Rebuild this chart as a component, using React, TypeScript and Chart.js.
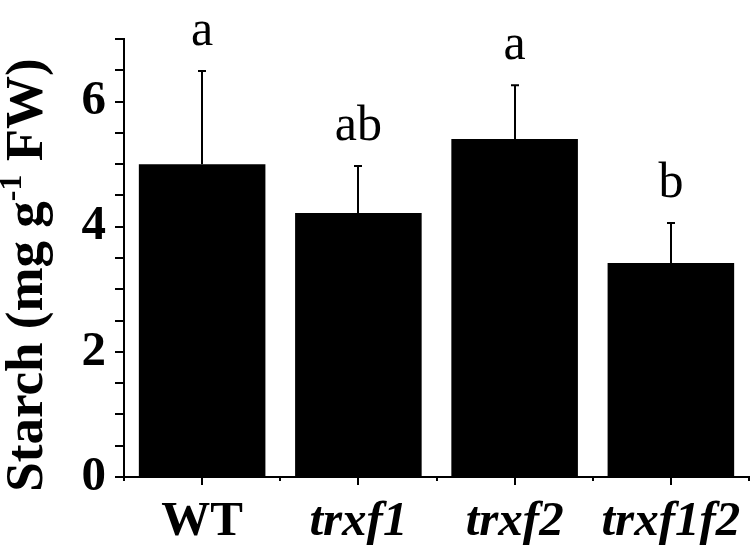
import React, { useEffect, useRef } from "react";
import { Chart, registerables } from "chart.js";

Chart.register(...registerables);

const categories = ["WT", "trxf1", "trxf2", "trxf1f2"];
const italicCategory = [false, true, true, true];
const starchMeans = [5.0, 4.22, 5.4, 3.42];
const starchErrors = [1.49, 0.75, 0.86, 0.64];
const groupLetters = ["a", "ab", "a", "b"];
const letterGap = 0.42;
const yTickLabels = [0, 2, 4, 6];
const yMin = 0;
const yMax = 7;

const SERIF = "'Liberation Serif', 'Times New Roman', serif";

const overlayPlugin = {
  id: "overlay",
  afterDatasetsDraw(chart: any) {
    const ctx = chart.ctx as CanvasRenderingContext2D;
    const x = chart.scales.x;
    const y = chart.scales.y;
    const area = chart.chartArea;
    ctx.save();
    ctx.strokeStyle = "#000";
    ctx.fillStyle = "#000";
    ctx.lineWidth = 2;
    // error bars (upward only)
    starchMeans.forEach((m, i) => {
      const cx = Math.round(x.getPixelForValue(i));
      const y0 = y.getPixelForValue(m);
      const y1 = y.getPixelForValue(m + starchErrors[i]);
      ctx.beginPath();
      ctx.moveTo(cx, y0);
      ctx.lineTo(cx, y1);
      ctx.moveTo(cx - 4, y1);
      ctx.lineTo(cx + 4, y1);
      ctx.stroke();
    });
    // group letters
    ctx.font = `50px ${SERIF}`;
    ctx.textAlign = "center";
    ctx.textBaseline = "alphabetic";
    groupLetters.forEach((t, i) => {
      const top = starchMeans[i] + starchErrors[i] + letterGap;
      ctx.fillText(t, x.getPixelForValue(i), y.getPixelForValue(top));
    });
    // x tick marks
    const n = categories.length;
    const bottom = area.bottom;
    const step = (x.right - x.left) / n;
    ctx.beginPath();
    for (let i = 0; i < n; i++) {
      const cx = Math.round(x.getPixelForValue(i));
      ctx.moveTo(cx, bottom);
      ctx.lineTo(cx, bottom + 8);
    }
    for (let i = 0; i <= n; i++) {
      const bx = Math.round(x.left + i * step);
      ctx.moveTo(bx, bottom);
      ctx.lineTo(bx, bottom + 4);
    }
    ctx.stroke();
    // y title with superscript
    const big = `bold 53px ${SERIF}`;
    const small = `bold 32px ${SERIF}`;
    const p1 = "Starch (mg g";
    const p2 = "-1";
    const p3 = " FW)";
    ctx.font = big;
    const w1 = ctx.measureText(p1).width;
    const w3 = ctx.measureText(p3).width;
    ctx.font = small;
    const w2 = ctx.measureText(p2).width;
    const total = w1 + w2 + w3;
    const cy = (area.top + area.bottom) / 2 + 17;
    ctx.translate(42, cy);
    ctx.rotate(-Math.PI / 2);
    ctx.textAlign = "left";
    let px = -total / 2;
    ctx.font = big;
    ctx.fillText(p1, px, 0);
    px += w1;
    ctx.font = small;
    ctx.fillText(p2, px, -21);
    px += w2;
    ctx.font = big;
    ctx.fillText(p3, px, 0);
    ctx.restore();
  },
};

export default function App() {
  const ref = useRef<HTMLCanvasElement | null>(null);
  useEffect(() => {
    if (!ref.current) return;
    const chart = new Chart(ref.current, {
      type: "bar",
      data: {
        labels: categories,
        datasets: [
          {
            data: starchMeans,
            backgroundColor: "#000",
            borderWidth: 0,
            barPercentage: 0.81,
            categoryPercentage: 1,
          },
        ],
      },
      options: {
        animation: false,
        responsive: false,
        maintainAspectRatio: false,
        devicePixelRatio: 1,
        layout: { padding: { top: 39, right: 2, left: 0, bottom: 0 } },
        plugins: { legend: { display: false }, tooltip: { enabled: false } },
        scales: {
          x: {
            type: "category",
            offset: true,
            grid: { display: false },
            border: { display: true, color: "#000", width: 2 },
            ticks: {
              color: "#000",
              padding: 8,
              maxRotation: 0,
              autoSkip: false,
              font: (c: any) => ({
                family: SERIF,
                size: 49,
                weight: "bold",
                style: italicCategory[c.index] ? "italic" : "normal",
              }),
            },
            afterFit: (s: any) => {
              s.height = 76;
            },
          },
          y: {
            min: yMin,
            max: yMax,
            grid: {
              display: true,
              drawOnChartArea: false,
              drawTicks: true,
              tickLength: 9,
              color: "#000",
              lineWidth: 2,
            },
            border: { display: true, color: "#000", width: 2 },
            ticks: {
              stepSize: 0.5,
              autoSkip: false,
              color: "#000",
              padding: 9,
              font: { family: SERIF, size: 49, weight: "bold" },
              callback: (v: any) => (yTickLabels.includes(Number(v)) ? String(v) : ""),
            },
            afterFit: (s: any) => {
              s.width = 124;
            },
          },
        },
      },
      plugins: [overlayPlugin],
    });
    return () => chart.destroy();
  }, []);
  return (
    <div style={{ position: "fixed", left: 0, top: 0, width: 751, height: 553, background: "#fff" }}>
      <canvas ref={ref} width={751} height={553} style={{ width: 751, height: 553, display: "block" }} />
    </div>
  );
}
